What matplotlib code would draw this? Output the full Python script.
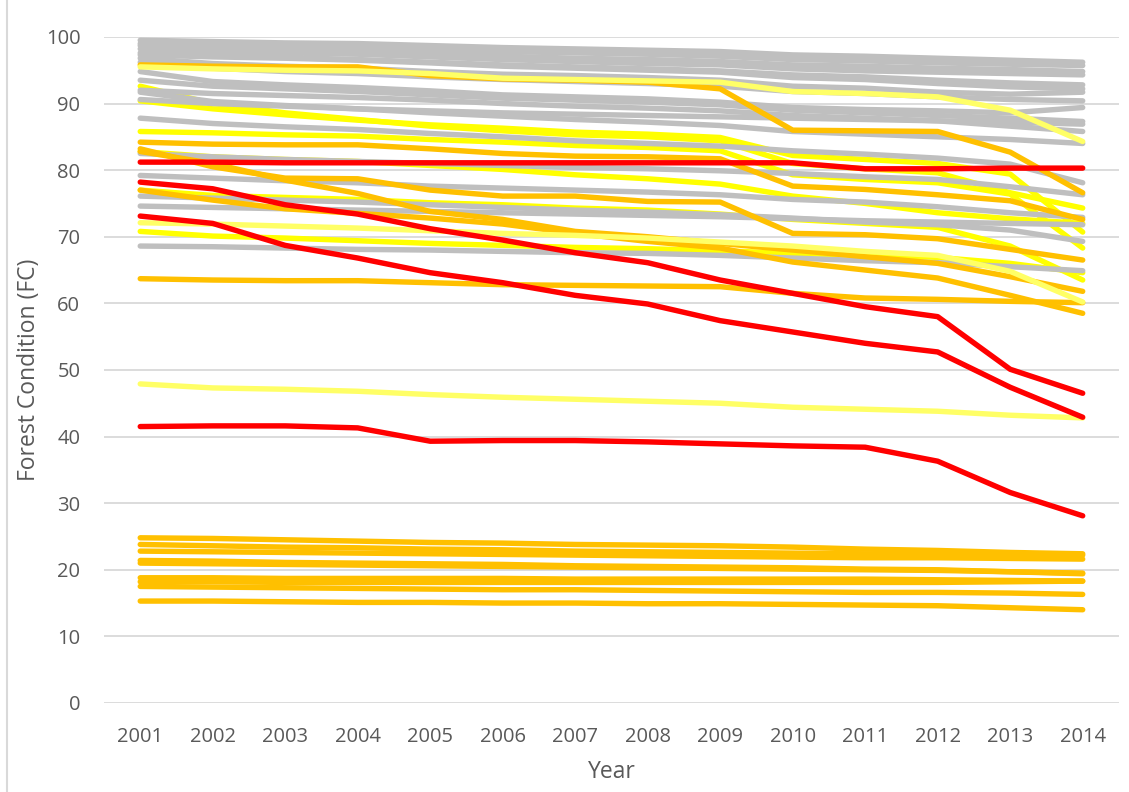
import matplotlib
matplotlib.use("Agg")
import matplotlib.pyplot as plt
from matplotlib.lines import Line2D

plt.rcParams['font.family'] = ['Open Sans', 'DejaVu Sans']

years = ["2001", "2002", "2003", "2004", "2005", "2006", "2007",
         "2008", "2009", "2010", "2011", "2012", "2013", "2014"]

# grey forest units
gray_series = [
    [99.5, 99.3, 99.1, 99.0, 98.7, 98.4, 98.2, 98.0, 97.8, 97.3, 97.1, 96.8, 96.5, 96.2],
    [99.0, 98.7, 98.5, 98.4, 98.1, 97.8, 97.6, 97.4, 97.1, 96.6, 96.4, 96.1, 95.9, 95.7],
    [98.7, 98.3, 98.0, 97.8, 97.5, 97.1, 96.8, 96.6, 96.3, 95.8, 95.6, 95.3, 95.1, 94.8],
    [98.2, 97.9, 97.6, 97.4, 97.0, 96.6, 96.3, 96.0, 95.8, 95.2, 94.9, 94.7, 94.5, 94.3],
    [97.6, 97.2, 96.9, 96.6, 96.2, 95.8, 95.5, 95.2, 94.9, 94.3, 94.0, 93.5, 93.1, 92.8],
    [97.3, 97.0, 96.8, 96.5, 96.1, 95.6, 95.3, 95.0, 94.7, 93.9, 93.6, 93.0, 92.5, 92.2],
    [96.8, 96.0, 95.6, 95.3, 94.8, 94.4, 94.2, 93.9, 93.5, 92.6, 92.3, 91.7, 91.4, 91.7],
    [96.2, 95.3, 94.8, 94.5, 94.0, 93.6, 93.3, 93.0, 92.6, 91.8, 91.5, 91.0, 90.6, 90.4],
    [94.8, 93.3, 92.8, 92.4, 91.9, 91.3, 91.0, 90.7, 90.2, 89.4, 89.1, 88.9, 88.6, 89.4],
    [93.5, 92.6, 92.2, 91.8, 91.3, 90.8, 90.5, 90.2, 89.8, 89.0, 88.6, 88.2, 87.8, 87.3],
    [92.0, 91.5, 91.2, 90.9, 90.5, 90.0, 89.6, 89.3, 88.9, 88.2, 87.8, 87.4, 86.6, 85.8],
    [91.7, 90.3, 89.7, 89.2, 88.6, 88.1, 87.6, 87.2, 86.7, 85.8, 85.4, 85.0, 84.6, 84.0],
    [90.6, 90.0, 89.6, 89.2, 88.9, 88.6, 88.4, 88.2, 88.0, 87.8, 87.6, 87.4, 87.2, 86.9],
    [87.8, 87.0, 86.5, 86.1, 85.5, 85.0, 84.4, 84.0, 83.6, 82.9, 82.4, 81.8, 80.9, 78.1],
    [82.5, 82.0, 81.6, 81.3, 81.0, 80.7, 80.4, 80.2, 79.9, 79.5, 79.0, 78.6, 77.5, 76.3],
    [79.2, 78.8, 78.4, 78.1, 77.6, 77.3, 77.0, 76.7, 76.3, 75.6, 75.2, 74.5, 73.6, 72.9],
    [76.1, 75.8, 75.5, 75.2, 74.8, 74.4, 74.0, 73.7, 73.3, 72.8, 72.2, 71.8, 71.0, 69.3],
    [74.6, 74.4, 74.2, 74.0, 73.8, 73.6, 73.4, 73.2, 73.0, 72.7, 72.4, 72.2, 72.0, 71.8],
    [68.6, 68.5, 68.3, 68.1, 68.0, 67.8, 67.6, 67.5, 67.2, 66.8, 66.4, 66.1, 65.5, 64.9],
]

# light yellow forest units
light_yellow_series = [
    [95.5, 95.2, 95.0, 94.9, 94.5, 93.8, 93.6, 93.4, 93.2, 91.8, 91.5, 91.0, 89.0, 84.3],
    [72.1, 71.9, 71.6, 71.3, 70.9, 70.5, 70.2, 69.8, 69.2, 68.6, 67.8, 67.2, 64.8, 60.2],
    [47.9, 47.3, 47.1, 46.8, 46.3, 45.9, 45.6, 45.3, 45.0, 44.4, 44.1, 43.8, 43.2, 42.8],
]

# yellow forest units
yellow_series = [
    [92.6, 90.0, 88.6, 87.6, 86.6, 85.9, 85.3, 85.0, 84.4, 81.0, 80.2, 79.6, 76.6, 74.3],
    [90.4, 89.2, 88.3, 87.5, 86.8, 86.3, 85.7, 85.4, 84.9, 82.2, 81.6, 81.0, 79.4, 70.7],
    [85.8, 85.6, 85.3, 85.1, 84.6, 84.2, 83.7, 83.4, 82.9, 79.3, 78.6, 78.1, 76.4, 68.3],
    [82.8, 82.0, 81.6, 81.3, 80.7, 80.1, 79.3, 78.7, 77.9, 76.1, 75.0, 73.6, 72.7, 72.0],
    [77.0, 76.2, 75.9, 75.6, 75.1, 74.8, 74.3, 74.0, 73.4, 72.6, 72.0, 71.4, 68.6, 63.5],
    [70.8, 70.1, 69.8, 69.4, 69.0, 68.7, 68.4, 68.2, 67.9, 67.5, 67.2, 66.9, 66.0, 64.6],
]

# orange forest units
orange_series = [
    [95.8, 95.6, 95.5, 95.5, 94.2, 93.7, 93.5, 93.2, 92.2, 86.0, 85.9, 85.8, 82.7, 76.6],
    [84.2, 83.9, 83.8, 83.8, 83.2, 82.5, 82.1, 82.0, 81.7, 77.6, 77.1, 76.3, 75.4, 72.6],
    [83.2, 80.5, 78.8, 78.7, 77.0, 76.1, 76.1, 75.3, 75.2, 70.5, 70.3, 69.7, 68.1, 66.5],
    [82.8, 81.0, 78.5, 76.5, 73.8, 72.6, 70.8, 70.0, 69.0, 68.0, 67.0, 66.0, 64.0, 61.8],
    [77.0, 75.5, 74.2, 73.5, 72.8, 71.9, 70.5, 69.3, 68.3, 66.2, 65.0, 63.8, 61.2, 58.5],
    [63.7, 63.5, 63.4, 63.4, 63.1, 62.8, 62.7, 62.6, 62.5, 61.5, 60.8, 60.6, 60.3, 60.1],
    [24.8, 24.7, 24.5, 24.3, 24.1, 24.0, 23.8, 23.7, 23.6, 23.4, 23.1, 22.9, 22.6, 22.4],
    [23.8, 23.6, 23.4, 23.3, 23.1, 23.0, 22.8, 22.7, 22.6, 22.5, 22.4, 22.3, 22.2, 22.2],
    [22.8, 22.7, 22.6, 22.5, 22.4, 22.3, 22.2, 22.1, 22.0, 21.9, 21.8, 21.8, 21.7, 21.6],
    [21.4, 21.3, 21.1, 21.0, 20.9, 20.8, 20.6, 20.5, 20.4, 20.3, 20.1, 20.0, 19.7, 19.4],
    [21.0, 20.9, 20.8, 20.7, 20.6, 20.5, 20.4, 20.3, 20.2, 20.1, 20.0, 19.9, 19.7, 19.5],
    [18.8, 18.8, 18.7, 18.7, 18.7, 18.7, 18.6, 18.6, 18.6, 18.6, 18.6, 18.5, 18.4, 18.3],
    [18.2, 18.2, 18.1, 18.1, 18.1, 18.1, 18.1, 18.1, 18.1, 18.1, 18.1, 18.1, 18.2, 18.3],
    [17.5, 17.4, 17.3, 17.2, 17.1, 17.0, 17.0, 16.9, 16.8, 16.7, 16.6, 16.6, 16.5, 16.3],
    [15.3, 15.3, 15.2, 15.1, 15.1, 15.0, 15.0, 14.9, 14.9, 14.8, 14.7, 14.6, 14.3, 14.0],
]

# red forest units
red_series = [
    [81.2, 81.2, 81.1, 81.1, 81.1, 81.1, 81.1, 81.1, 81.1, 81.1, 80.2, 80.2, 80.3, 80.3],
    [78.2, 77.2, 74.8, 73.4, 71.2, 69.5, 67.6, 66.1, 63.5, 61.5, 59.5, 58.0, 50.1, 46.5],
    [73.1, 72.0, 68.7, 66.8, 64.6, 63.1, 61.2, 59.9, 57.4, 55.7, 54.0, 52.7, 47.4, 42.9],
    [41.5, 41.6, 41.6, 41.3, 39.3, 39.4, 39.4, 39.2, 38.9, 38.6, 38.4, 36.3, 31.6, 28.1],
]

# drawing order: yellow, grey, orange, light yellow, red on top
groups = [
    (yellow_series, "#FFFF00"),
    (gray_series, "#BFBFBF"),
    (orange_series, "#FFC000"),
    (light_yellow_series, "#FFFF66"),
    (red_series, "#FF0000"),
]

fig = plt.figure(figsize=(11.29, 7.92), dpi=100)
ax = fig.add_axes([0.0921, 0.1124, 0.899, 0.841])

x = list(range(len(years)))
for series, color in groups:
    for vals in series:
        ax.plot(x, vals, color=color, lw=3.9, solid_capstyle="round",
                solid_joinstyle="round", zorder=3)

ax.set_xlim(-0.5, len(years) - 0.5)
ax.set_ylim(0, 100)
ax.set_yticks(range(0, 101, 10))
ax.set_xticks(x)
ax.set_xticklabels(years)
ax.grid(axis="y", color="#D9D9D9", lw=1.3, zorder=0)
ax.set_axisbelow(True)
for s in ax.spines.values():
    s.set_visible(False)
ax.tick_params(length=0, labelsize=14.5, colors="#595959")
ax.tick_params(axis="x", pad=17)
ax.tick_params(axis="y", pad=17)
ax.set_xlabel("Year", fontsize=16.5, color="#595959", labelpad=10)
ax.set_ylabel("Forest Condition (FC)", fontsize=16.5, color="#595959")
ax.yaxis.set_label_coords(-0.062, 0.5)

# chart area border (left edge visible)
fig.add_artist(Line2D([0.006, 0.006], [0, 1], color="#D9D9D9", lw=1.5,
                      transform=fig.transFigure))

fig.savefig("out.png", dpi=100)
